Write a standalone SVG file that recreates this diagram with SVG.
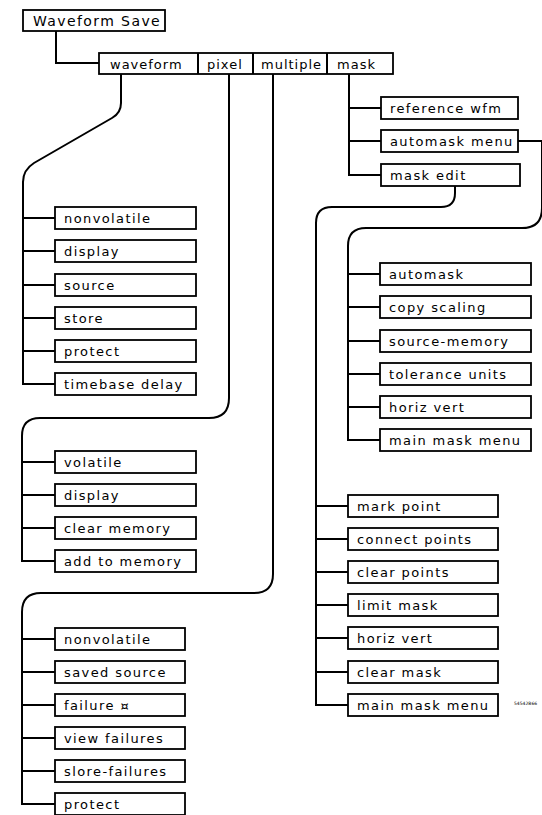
<svg xmlns="http://www.w3.org/2000/svg" width="542" height="815" viewBox="0 0 542 815">
<style>
.b{fill:#fff;stroke:#000;stroke-width:1.8}
.c{fill:none;stroke:#000;stroke-width:2}
text{font-family:"DejaVu Sans",sans-serif;font-size:13px;letter-spacing:1.4px;fill:#000}
.h{font-size:14px;letter-spacing:1.4px}
.m{letter-spacing:1px}
.t{font-size:4.5px;letter-spacing:0}
</style>
<rect width="542" height="815" fill="#fff"/>
<g id="connectors">
<path class="c" d="M56,31 V63 H99"/>
<path class="c" d="M121,74 V103 Q121,113 112,118 L34,163 Q23,170 23,182 V384 H55"/>
<path class="c" d="M23,218 H55 M23,251 H55 M23,285 H55 M23,318 H55 M23,351 H55"/>
<path class="c" d="M229,74 V398 Q229,418 209,418 H40 Q22,418 22,436 V561 H55"/>
<path class="c" d="M22,462 H55 M22,495 H55 M22,528 H55"/>
<path class="c" d="M273,74 V574 Q273,593 254,593 H41 Q22,593 22,612 V804 H55"/>
<path class="c" d="M22,639 H55 M22,672 H55 M22,705 H55 M22,738 H55 M22,771 H55"/>
<path class="c" d="M349,74 V175 H381 M349,108 H381 M349,141 H381"/>
<path class="c" d="M518,141 H542 V208 Q542,228 522,228 H366 Q348,228 348,246 V440 H380"/>
<path class="c" d="M348,274 H380 M348,307 H380 M348,341 H380 M348,374 H380 M348,407 H380"/>
<path class="c" d="M455,186 V193 Q455,207 441,207 H332 Q316,207 316,223 V705 H348"/>
<path class="c" d="M316,506 H348 M316,539 H348 M316,572 H348 M316,605 H348 M316,638 H348 M316,672 H348"/>
</g>
<g id="waveform-save"><rect class="b" x="23" y="10" width="142" height="21"/><text class="h" x="33" y="26">Waveform Save</text></g>
<g id="menu-bar">
<rect class="b" x="99" y="53" width="294" height="21"/>
<path class="c" d="M198,53 V74 M253,53 V74 M327,53 V74"/>
<text class="m" x="110" y="69">waveform</text>
<text class="m" x="207" y="69">pixel</text>
<text class="m" x="261" y="69">multiple</text>
<text class="m" x="337" y="69">mask</text>
</g>
<g id="wf-nonvolatile"><rect class="b" x="55" y="207" width="141" height="22"/><text x="64" y="223">nonvolatile</text></g>
<g id="wf-display"><rect class="b" x="55" y="240" width="141" height="22"/><text x="64" y="256">display</text></g>
<g id="wf-source"><rect class="b" x="55" y="274" width="141" height="22"/><text x="64" y="290">source</text></g>
<g id="wf-store"><rect class="b" x="55" y="307" width="141" height="22"/><text x="64" y="323">store</text></g>
<g id="wf-protect"><rect class="b" x="55" y="340" width="141" height="22"/><text x="64" y="356">protect</text></g>
<g id="wf-timebase"><rect class="b" x="55" y="373" width="141" height="22"/><text x="64" y="389">timebase delay</text></g>
<g id="px-volatile"><rect class="b" x="55" y="451" width="141" height="22"/><text x="64" y="467">volatile</text></g>
<g id="px-display"><rect class="b" x="55" y="484" width="141" height="22"/><text x="64" y="500">display</text></g>
<g id="px-clear"><rect class="b" x="55" y="517" width="141" height="22"/><text x="64" y="533">clear memory</text></g>
<g id="px-add"><rect class="b" x="55" y="550" width="141" height="22"/><text x="64" y="566">add to memory</text></g>
<g id="mu-nonvolatile"><rect class="b" x="55" y="628" width="130" height="22"/><text x="64" y="644">nonvolatile</text></g>
<g id="mu-saved"><rect class="b" x="55" y="661" width="130" height="22"/><text x="64" y="677">saved source</text></g>
<g id="mu-failure"><rect class="b" x="55" y="694" width="130" height="22"/><text x="64" y="710">failure ¤</text></g>
<g id="mu-view"><rect class="b" x="55" y="727" width="130" height="22"/><text x="64" y="743">view failures</text></g>
<g id="mu-store"><rect class="b" x="55" y="760" width="130" height="22"/><text x="64" y="776">slore-failures</text></g>
<g id="mu-protect"><rect class="b" x="55" y="793" width="130" height="22"/><text x="64" y="809">protect</text></g>
<g id="mk-reference"><rect class="b" x="381" y="97" width="137" height="22"/><text x="390" y="113">reference wfm</text></g>
<g id="mk-automask-menu"><rect class="b" x="381" y="130" width="137" height="22"/><text x="390" y="146">automask menu</text></g>
<g id="mk-edit"><rect class="b" x="381" y="164" width="139" height="22"/><text x="390" y="180">mask edit</text></g>
<g id="am-automask"><rect class="b" x="380" y="263" width="151" height="22"/><text x="389" y="279">automask</text></g>
<g id="am-copy"><rect class="b" x="380" y="296" width="151" height="22"/><text x="389" y="312">copy scaling</text></g>
<g id="am-source"><rect class="b" x="380" y="330" width="151" height="22"/><text x="389" y="346">source-memory</text></g>
<g id="am-tolerance"><rect class="b" x="380" y="363" width="151" height="22"/><text x="389" y="379">tolerance units</text></g>
<g id="am-horiz"><rect class="b" x="380" y="396" width="151" height="22"/><text x="389" y="412">horiz vert</text></g>
<g id="am-main"><rect class="b" x="380" y="429" width="151" height="22"/><text x="389" y="445">main mask menu</text></g>
<g id="me-mark"><rect class="b" x="348" y="495" width="150" height="22"/><text x="357" y="511">mark point</text></g>
<g id="me-connect"><rect class="b" x="348" y="528" width="150" height="22"/><text x="357" y="544">connect points</text></g>
<g id="me-clear-points"><rect class="b" x="348" y="561" width="150" height="22"/><text x="357" y="577">clear points</text></g>
<g id="me-limit"><rect class="b" x="348" y="594" width="150" height="22"/><text x="357" y="610">limit mask</text></g>
<g id="me-horiz"><rect class="b" x="348" y="627" width="150" height="22"/><text x="357" y="643">horiz vert</text></g>
<g id="me-clear-mask"><rect class="b" x="348" y="661" width="150" height="22"/><text x="357" y="677">clear mask</text></g>
<g id="me-main"><rect class="b" x="348" y="694" width="150" height="22"/><text x="357" y="710">main mask menu</text></g>
<text class="t" x="514" y="705">54542B66</text>
</svg>
